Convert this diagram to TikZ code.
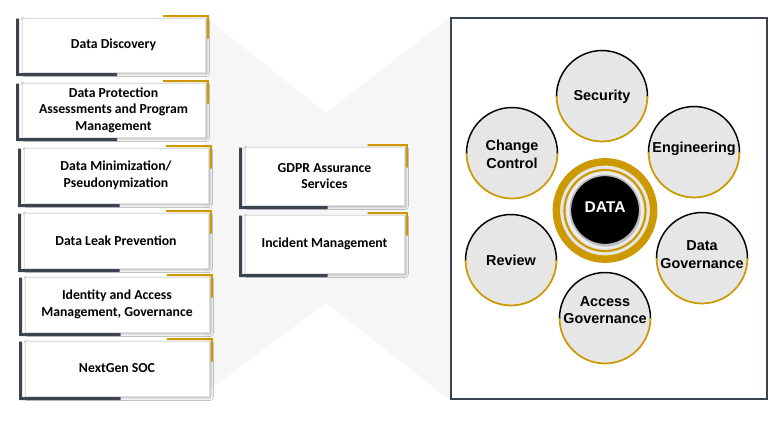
\documentclass[tikz,border=0pt]{standalone}
\usepackage{fontspec}
\setmainfont{Carlito}
\newfontfamily\arialf{Liberation Sans}
\usetikzlibrary{shadows.blur,calc}
\definecolor{slate}{RGB}{59,66,80}
\definecolor{goldc}{RGB}{204,153,0}
\definecolor{hg}{RGB}{246,246,246}
\definecolor{petalfill}{RGB}{230,230,230}
\newcommand\svcbox[6]{%
  \node[svc, minimum width={(#4-#2)*0.75pt}, minimum height={(#5-#3)*0.75pt}] (#1) at ({(#2+#4)/2},{(#3+#5)/2}) {#6};
  \draw[darkbar] ($(#1.north west)+(-4,1)$) -- ($(#1.south west)+(-4,2.3)$) -- ($(#1.south west)!0.52!(#1.south east)+(0,2.3)$);
  \draw[goldbar] ($(#1.north east)!0.23!(#1.north west)+(0,-1.5)$) -- ($(#1.north east)+(2.5,-1.5)$) -- ($(#1.north east)+(2.5,21)$);
}
\newcommand\petalnode[5]{%
  \node[petal] (#1) at (#2,#3) {};
  \begin{scope}
    \clip (#2-50,#3-50) rectangle (#2+50,#3);
    \draw[black, line width=1.1pt] (#1.center) circle[radius=34.1pt];
  \end{scope}
  \begin{scope}
    \clip (#2-50,#3) rectangle (#2+50,#3+50);
    \draw[goldc, line width=1.3pt] (#1.center) circle[radius=34.1pt];
  \end{scope}
  \node[ptext] (#1-t) at (#2,#5) {#4};
}
\begin{document}
\begin{tikzpicture}[x=0.75pt,y=-0.75pt,
  svc/.style={draw=black!12, line width=0.6pt, fill=white,
    blur shadow={shadow xshift=1.3pt, shadow yshift=-1.3pt, shadow blur steps=4, shadow opacity=35},
    align=center, inner sep=0pt, font=\bfseries\fontsize{10.3}{12.5}\selectfont},
  darkbar/.style={draw=slate, line width=2.2pt, line join=miter},
  goldbar/.style={draw=goldc, line width=1.6pt, line join=miter},
  petal/.style={circle, fill=petalfill, minimum size=68.2pt, inner sep=0pt},
  ptext/.style={align=center, inner sep=0pt, font=\arialf\bfseries\fontsize{10.8}{13}\selectfont},
  hourglass/.style={fill=hg},
  frame/.style={draw=slate, line width=1.5pt, fill=white, inner sep=0pt}]
\useasboundingbox (0,0) rectangle (777,421);
\fill[white] (0,0) rectangle (777,421);
% hourglass background
\path[hourglass] (205,17) -- (326,113) -- (326,303) -- (205,393) -- cycle;
\path[hourglass] (326,113) -- (450,17) -- (450,400) -- (326,303) -- cycle;
% left boxes
\svcbox{b1}{22}{18}{205}{72}{Data Discovery}
\svcbox{b2}{22}{83}{205}{137}{Data Protection\\Assessments and Program\\Management}
\svcbox{b3}{24}{148}{208}{203}{Data Minimization/\\Pseudonymization}
\svcbox{b4}{24}{213}{208}{268}{Data Leak Prevention}
\svcbox{b5}{25}{277}{209}{332}{Identity and Access\\Management, Governance}
\svcbox{b6}{25}{341}{209}{396}{NextGen SOC}
% middle boxes
\svcbox{m1}{245}{147}{404}{205}{GDPR Assurance\\Services}
\svcbox{m2}{245}{215}{404}{273}{Incident Management}
% right frame
\node[frame, minimum width={(767-451)*0.75pt}, minimum height={(399-18)*0.75pt}] (frm) at (609,208.5) {};
% petals
\petalnode{sec}{602}{96}{Security}{97}
\petalnode{chg}{512}{153}{Change\\Control}{154.5}
\petalnode{eng}{694}{152}{Engineering}{148.5}
\petalnode{rev}{511}{260}{Review}{260.5}
\petalnode{dgov}{702}{258}{Data\\Governance}{254.5}
\petalnode{agov}{605}{318}{Access\\Governance}{310}
% DATA hub
\node[circle, fill=petalfill, draw=goldc, line width=5.6pt, minimum size=73pt, inner sep=0pt] (ring) at (605,210.5) {};
\node[circle, draw=goldc, line width=1.6pt, minimum size=60.8pt, inner sep=0pt] (ring2) at (605,210.5) {};
\node[circle, fill=petalfill!70!white, minimum size=57pt, inner sep=0pt] (rim) at (605,210.5) {};
\node[circle, fill=black, draw=gray!55, line width=1.2pt, minimum size=52pt, inner sep=0pt,
  drop shadow={shadow xshift=0.8pt, shadow yshift=-1.5pt, fill=gray!80}] (core) at (605,210) {};
\node[text=white, inner sep=0pt, font=\arialf\bfseries\fontsize{11.7}{14}\selectfont] (data) at (605,207.5) {DATA};
\end{tikzpicture}
\end{document}
